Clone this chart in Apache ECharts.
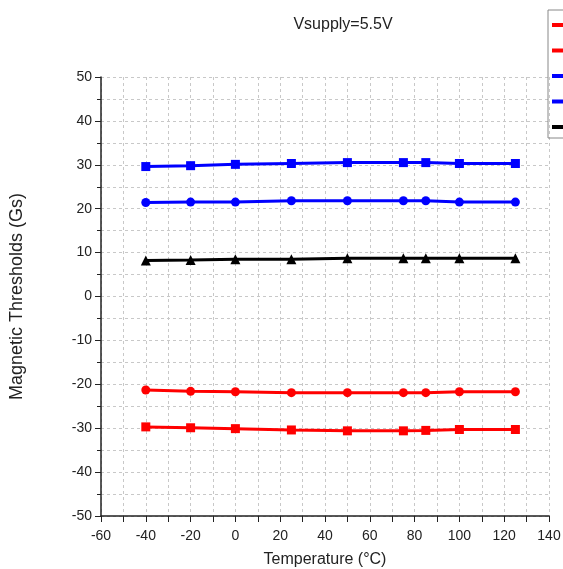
<!DOCTYPE html>
<html>
<head>
<meta charset="utf-8">
<script src="https://cdn.jsdelivr.net/npm/echarts@6/dist/echarts.min.js"></script>
<style>
  html, body { margin: 0; padding: 0; background: #fff; }
  #main { width: 563px; height: 569px; }
</style>
</head>
<body>
<div id="main"></div>
<script>
// temperatures (°C)
const temps = [-40, -20, 0, 25, 50, 75, 85, 100, 125];

// thresholds (Gs)
const redSquare = [-29.7, -29.9, -30.1, -30.4, -30.6, -30.6, -30.5, -30.3, -30.3];
const redCircle = [-21.3, -21.6, -21.7, -21.9, -21.9, -21.9, -21.9, -21.7, -21.7];
const blueSquare = [29.6, 29.8, 30.1, 30.3, 30.5, 30.5, 30.5, 30.3, 30.3];
const blueCircle = [21.4, 21.5, 21.5, 21.8, 21.8, 21.8, 21.8, 21.5, 21.5];
const blackTri = [8.2, 8.3, 8.5, 8.5, 8.7, 8.7, 8.7, 8.7, 8.7];

const seriesNames = ['BOPS', 'BRPS', 'BOPN', 'BRPN', 'BHYS'];

const pairs = vals => temps.map((t, i) => [t, vals[i]]);

const chartDom = document.getElementById('main');
const myChart = echarts.init(chartDom);

const gridDash = { color: '#c8c8c8', type: [3, 3], width: 1 };
const txt = '#222';
const font = 'Liberation Sans, Arial, sans-serif';

const makeSeries = (name, data, color, symbol) => ({
    name: name,
    type: 'line',
    data: pairs(data),
    symbol: symbol,
    symbolSize: symbol === 'triangle' ? 10 : 9,
    lineStyle: { color: color, width: 3 },
    itemStyle: { color: color },
    z: 3
});

const option = {
    animation: false,
    textStyle: { fontFamily: font },
    title: {
        text: 'Vsupply=5.5V',
        left: 338,
        top: 12,
        textAlign: 'center',
        textStyle: { fontSize: 16, fontWeight: 'normal', color: txt, fontFamily: font }
    },
    legend: {
        orient: 'vertical',
        left: 548,
        top: 10,
        padding: [8, 5, 4, 4],
        itemGap: 11.5,
        itemWidth: 14,
        itemHeight: 4,
        icon: 'rect',
        borderColor: '#888',
        borderWidth: 1,
        textStyle: { fontSize: 12, color: txt, lineHeight: 14, height: 14 },
        data: seriesNames
    },
    grid: { left: 101, right: 14, top: 77, bottom: 53, containLabel: false, outerBoundsMode: 'none' },
    xAxis: {
        type: 'value',
        min: -60,
        max: 140,
        interval: 20,
        name: 'Temperature (°C)',
        nameLocation: 'middle',
        nameGap: 36,
        nameTextStyle: { fontSize: 16, color: txt },
        axisLine: { onZero: false, lineStyle: { color: '#222', width: 1.5 } },
        axisTick: { inside: false, length: 6, lineStyle: { color: '#222' } },
        minorTick: { show: true, splitNumber: 2, length: 6, lineStyle: { color: '#222' } },
        axisLabel: { fontSize: 14, color: txt, margin: 13 },
        splitLine: { show: true, lineStyle: gridDash },
        minorSplitLine: { show: true, lineStyle: gridDash }
    },
    yAxis: {
        type: 'value',
        min: -50,
        max: 50,
        interval: 10,
        name: 'Magnetic Thresholds (Gs)',
        nameLocation: 'middle',
        nameGap: 75,
        nameTextStyle: { fontSize: 18, color: txt },
        axisLine: { show: true, onZero: false, lineStyle: { color: '#222', width: 1.5 } },
        axisTick: { show: true, length: 6, lineStyle: { color: '#222' } },
        minorTick: { show: true, splitNumber: 2, length: 4, lineStyle: { color: '#222' } },
        axisLabel: { fontSize: 14, color: txt, margin: 9 },
        splitLine: { show: true, lineStyle: gridDash },
        minorSplitLine: { show: true, lineStyle: gridDash }
    },
    series: [
        makeSeries(seriesNames[0], redSquare, '#ff0000', 'rect'),
        makeSeries(seriesNames[1], redCircle, '#ff0000', 'circle'),
        makeSeries(seriesNames[2], blueSquare, '#0000ff', 'rect'),
        makeSeries(seriesNames[3], blueCircle, '#0000ff', 'circle'),
        makeSeries(seriesNames[4], blackTri, '#000000', 'triangle')
    ]
};

myChart.setOption(option);

window.addEventListener('resize', () => {
    myChart.resize();
});
</script>
</body>
</html>
